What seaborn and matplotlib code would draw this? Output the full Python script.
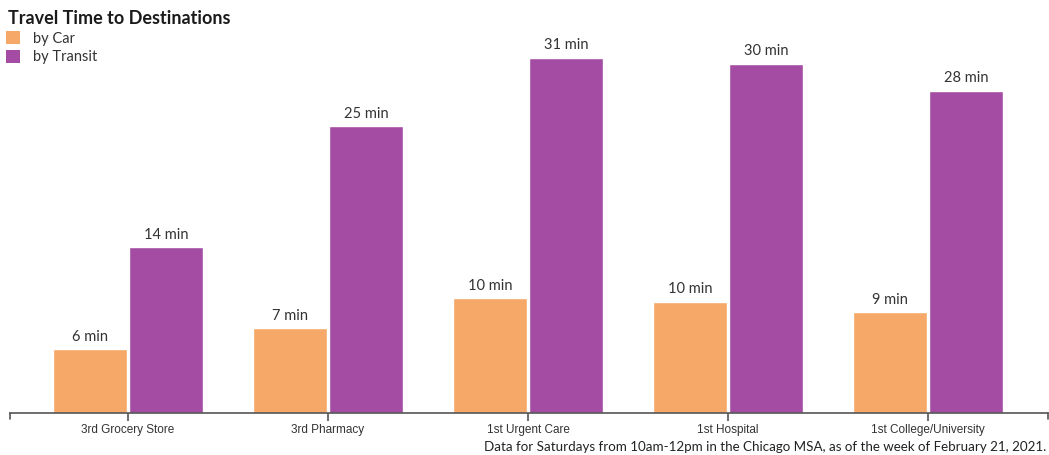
import matplotlib
matplotlib.use("Agg")
import matplotlib.pyplot as plt
import seaborn as sns
import pandas as pd
from matplotlib.patches import Patch

categories = ["3rd Grocery Store", "3rd Pharmacy", "1st Urgent Care", "1st Hospital", "1st College/University"]
car_minutes = [5.5, 7.3, 9.9, 9.6, 8.7]
transit_minutes = [14.3, 24.7, 30.6, 30.1, 27.8]
series_names = ["by Car", "by Transit"]
title = "Travel Time to Destinations"
footnote = "Data for Saturdays from 10am-12pm in the Chicago MSA, as of the week of February 21, 2021."

colors = ["#F5A867", "#A44CA4"]

df = pd.DataFrame({
    "category": categories * 2,
    "mode": [series_names[0]] * len(categories) + [series_names[1]] * len(categories),
    "minutes": car_minutes + transit_minutes,
})

sns.set_style("white")
plt.rcParams["font.family"] = ["Lato", "DejaVu Sans"]

W, H = 1049, 455
fig = plt.figure(figsize=(W / 100, H / 100), dpi=100)
ax = fig.add_axes([10 / W, 42 / H, 1038 / W, 406 / H])

sns.barplot(data=df, x="category", y="minutes", hue="mode", palette=colors,
            order=categories, hue_order=series_names, width=0.76, gap=0.026,
            saturation=1, ax=ax, legend=False)

ax.set_ylim(0, 406 / 11.6)
ax.set_xlim(-0.59, 4.6)
for c in ax.containers:
    labels = [f"{round(v)} min" for v in c.datavalues]
    ax.bar_label(c, labels=labels, padding=4, fontsize=10.5, color="#333333")

for s in ["top", "right", "left"]:
    ax.spines[s].set_visible(False)
ax.spines["bottom"].set_color("#555555")
ax.spines["bottom"].set_linewidth(1.2)
ax.set_yticks([])
ax.set_xlabel("")
ax.set_ylabel("")
ax.tick_params(axis="x", length=6, width=1.2, color="#555555", pad=2,
               labelsize=8.5, labelcolor="#333333", bottom=True)
for lbl in ax.get_xticklabels():
    lbl.set_fontfamily(["Liberation Sans", "DejaVu Sans"])
# end ticks
for xe in [-0.59, 4.6]:
    ax.plot([xe, xe], [0, -0.5], color="#555555", lw=1.2, clip_on=False)

fig.text(8 / W, 1 - 18 / H, title, fontsize=13, fontweight="bold", color="#1a1a1a",
         ha="left", va="center")

handles = [Patch(facecolor=colors[i], edgecolor="none", label=series_names[i]) for i in range(2)]
fig.legend(handles=handles, loc="upper left", bbox_to_anchor=(2 / W, 1 - 27 / H),
           frameon=False, fontsize=10.5, handlelength=0.95, handleheight=0.95,
           handletextpad=0.9, labelspacing=0.3, borderaxespad=0, borderpad=0.3,
           labelcolor="#333333")

fig.text(1046 / W, 1 - 447 / H, footnote, fontsize=9.6, color="#222222", ha="right", va="center")

fig.savefig("out.png", dpi=100)
